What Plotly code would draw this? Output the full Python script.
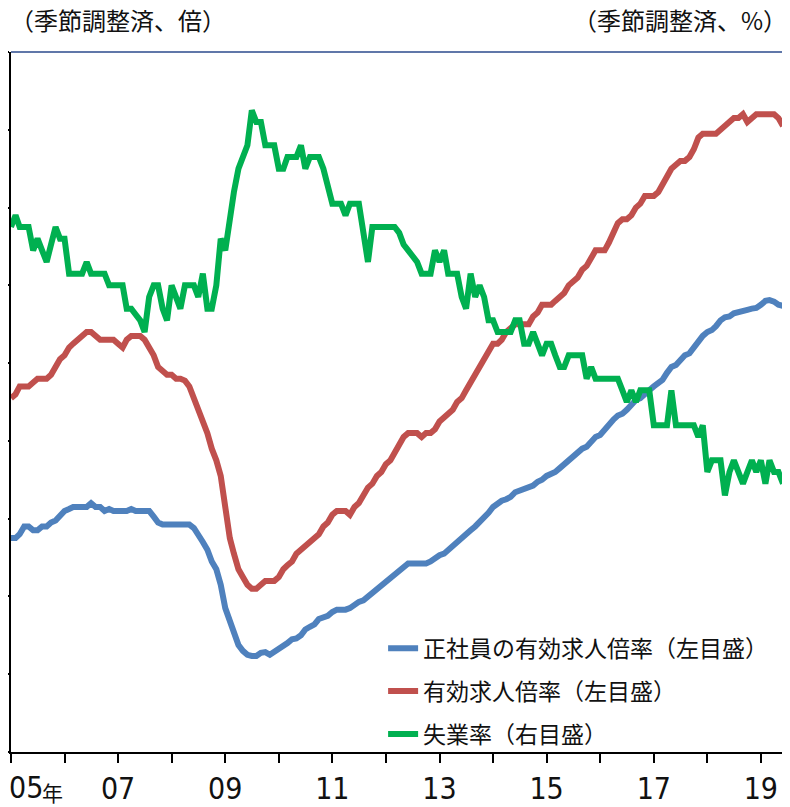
import pandas as pd
import plotly.graph_objects as go

# Monthly data, Jan 2005 - Jun 2019
months = pd.date_range("2005-01-01", periods=174, freq="MS")

regular_ratio = [
    # 2005
    0.55, 0.55, 0.56, 0.58, 0.58, 0.57, 0.57, 0.58, 0.58, 0.59, 0.595, 0.61,
    # 2006
    0.62, 0.625, 0.63, 0.63, 0.63, 0.63, 0.64, 0.63, 0.63, 0.62, 0.625, 0.62,
    # 2007
    0.62, 0.62, 0.62, 0.625, 0.62, 0.62, 0.62, 0.62, 0.605, 0.59, 0.585, 0.585,
    # 2008
    0.585, 0.585, 0.585, 0.585, 0.585, 0.576, 0.56, 0.54, 0.52, 0.49, 0.47, 0.43,
    # 2009
    0.37, 0.335, 0.30, 0.275, 0.26, 0.25, 0.247, 0.247, 0.255, 0.257, 0.25, 0.257,
    # 2010
    0.265, 0.272, 0.28, 0.29, 0.292, 0.30, 0.315, 0.322, 0.328, 0.342, 0.345, 0.35,
    # 2011
    0.36, 0.366, 0.366, 0.366, 0.37, 0.38, 0.386, 0.39, 0.40, 0.41, 0.42, 0.43,
    # 2012
    0.437, 0.445, 0.455, 0.465, 0.475, 0.485, 0.485, 0.485, 0.485, 0.485, 0.49, 0.50,
    # 2013
    0.506, 0.51, 0.52, 0.53, 0.54, 0.55, 0.56, 0.57, 0.58, 0.59, 0.60, 0.615,
    # 2014
    0.63, 0.64, 0.646, 0.65, 0.656, 0.668, 0.673, 0.675, 0.68, 0.685, 0.695, 0.70,
    # 2015
    0.71, 0.715, 0.72, 0.73, 0.74, 0.75, 0.76, 0.77, 0.78, 0.785, 0.80, 0.81,
    # 2016
    0.815, 0.83, 0.84, 0.855, 0.865, 0.87, 0.88, 0.895, 0.905, 0.91, 0.918, 0.93,
    # 2017
    0.94, 0.95, 0.957, 0.975, 0.99, 0.995, 1.01, 1.02, 1.025, 1.04, 1.06, 1.07,
    # 2018
    1.08, 1.085, 1.095, 1.11, 1.118, 1.12, 1.128, 1.13, 1.133, 1.137, 1.14, 1.142,
    # 2019
    1.15, 1.16, 1.162, 1.158, 1.15, 1.147,
]

job_ratio = [
    # 2005
    0.91, 0.92, 0.94, 0.94, 0.94, 0.95, 0.96, 0.96, 0.96, 0.97, 0.99, 1.01,
    # 2006
    1.02, 1.04, 1.05, 1.06, 1.07, 1.08, 1.08, 1.07, 1.06, 1.06, 1.06, 1.06,
    # 2007
    1.05, 1.04, 1.06, 1.07, 1.07, 1.07, 1.06, 1.04, 1.02, 0.99, 0.98, 0.97,
    # 2008
    0.97, 0.96, 0.96, 0.955, 0.94, 0.91, 0.89, 0.86, 0.82, 0.78, 0.75, 0.71,
    # 2009
    0.63, 0.55, 0.51, 0.47, 0.45, 0.43, 0.42, 0.42, 0.43, 0.44, 0.44, 0.44,
    # 2010
    0.45, 0.47, 0.48, 0.49, 0.51, 0.52, 0.53, 0.54, 0.55, 0.56, 0.58, 0.59,
    # 2011
    0.61, 0.62, 0.62, 0.62, 0.61, 0.63, 0.64, 0.66, 0.68, 0.69, 0.71, 0.72,
    # 2012
    0.74, 0.75, 0.77, 0.79, 0.81, 0.82, 0.82, 0.82, 0.81, 0.82, 0.82, 0.83,
    # 2013
    0.85, 0.86, 0.87, 0.88, 0.90, 0.91, 0.93, 0.95, 0.97, 0.99, 1.01, 1.03,
    # 2014
    1.05, 1.05, 1.06, 1.08, 1.09, 1.10, 1.10, 1.10, 1.10, 1.12, 1.13, 1.15,
    # 2015
    1.15, 1.15, 1.16, 1.17, 1.18, 1.20, 1.21, 1.22, 1.24, 1.25, 1.27, 1.29,
    # 2016
    1.29, 1.29, 1.31, 1.34, 1.36, 1.37, 1.37, 1.38, 1.40, 1.41, 1.43, 1.43,
    # 2017
    1.43, 1.44, 1.46, 1.48, 1.50, 1.51, 1.52, 1.52, 1.53, 1.55, 1.58, 1.59,
    # 2018
    1.59, 1.59, 1.59, 1.60, 1.61, 1.62, 1.63, 1.63, 1.64, 1.62, 1.63, 1.64,
    # 2019
    1.64, 1.64, 1.64, 1.64, 1.63, 1.61,
]

unemployment = [
    # 2005
    4.5, 4.6, 4.5, 4.5, 4.5, 4.3, 4.4, 4.3, 4.2, 4.35, 4.5, 4.4,
    # 2006
    4.4, 4.1, 4.1, 4.1, 4.1, 4.2, 4.1, 4.1, 4.1, 4.1, 4.0, 4.0,
    # 2007
    4.0, 4.0, 3.8, 3.8, 3.75, 3.7, 3.6, 3.9, 4.0, 4.0, 3.8, 3.7,
    # 2008
    4.0, 3.9, 3.8, 4.0, 4.0, 4.0, 3.9, 4.1, 3.8, 3.8, 4.0, 4.4,
    # 2009
    4.3, 4.6, 4.8, 5.0, 5.1, 5.2, 5.5, 5.4, 5.4, 5.2, 5.2, 5.2,
    # 2010
    5.0, 5.0, 5.1, 5.1, 5.1, 5.2, 5.0, 5.1, 5.1, 5.1, 5.0, 4.85,
    # 2011
    4.7, 4.7, 4.7, 4.6, 4.7, 4.7, 4.7, 4.45, 4.2, 4.5, 4.5, 4.5,
    # 2012
    4.5, 4.5, 4.5, 4.45, 4.35, 4.3, 4.25, 4.2, 4.1, 4.1, 4.1, 4.3,
    # 2013
    4.2, 4.3, 4.1, 4.1, 4.1, 3.9, 3.8, 4.1, 3.9, 4.0, 3.9, 3.7,
    # 2014
    3.7, 3.6, 3.6, 3.6, 3.6, 3.7, 3.7, 3.5, 3.5, 3.6, 3.5, 3.4,
    # 2015
    3.5, 3.5, 3.4, 3.3, 3.3, 3.4, 3.4, 3.4, 3.4, 3.2, 3.3, 3.2,
    # 2016
    3.2, 3.2, 3.2, 3.2, 3.2, 3.1, 3.0, 3.1, 3.0, 3.1, 3.1, 3.1,
    # 2017
    2.8, 2.8, 2.8, 2.8, 3.1, 2.8, 2.8, 2.8, 2.8, 2.8, 2.7, 2.8,
    # 2018
    2.4, 2.5, 2.5, 2.5, 2.2, 2.4, 2.5, 2.4, 2.3, 2.4, 2.5, 2.4,
    # 2019
    2.5, 2.3, 2.5, 2.4, 2.4, 2.3,
]

series_names = [
    "正社員の有効求人倍率（左目盛）",
    "有効求人倍率（左目盛）",
    "失業率（右目盛）",
]
series_colors = ["#4F81BD", "#C0504D", "#00B050"]

year_ticks = pd.date_range("2005-01-01", "2019-01-01", freq="YS")
year_labels = ["05", "", "07", "", "09", "", "11", "", "13", "", "15", "", "17", "", "19"]

left_title = "（季節調整済、倍）"
right_title = "（季節調整済、%）"
year_suffix = "年"

JP = "Noto Sans CJK JP, Noto Sans, sans-serif"
NARROW = "Liberation Sans Narrow, Arial Narrow, DejaVu Sans Condensed, sans-serif"

fig = go.Figure()
fig.add_trace(go.Scatter(x=months, y=regular_ratio, name=series_names[0], mode="lines",
                         line=dict(color=series_colors[0], width=6), legendgroup="a", yaxis="y"))
fig.add_trace(go.Scatter(x=months, y=job_ratio, name=series_names[1], mode="lines",
                         line=dict(color=series_colors[1], width=6), legendgroup="b", yaxis="y"))
fig.add_trace(go.Scatter(x=months, y=unemployment, name=series_names[2], mode="lines",
                         line=dict(color=series_colors[2], width=6), legendgroup="c", yaxis="y2"))

# first year label is drawn as an annotation so it is not clipped at the page edge
axis_ticktext = [""] + year_labels[1:]

# the page body adds an 8px offset, margins compensate for it
fig.update_layout(
    width=790, height=807,
    margin=dict(l=3, r=15, t=44, b=63, pad=0, autoexpand=False),
    paper_bgcolor="white", plot_bgcolor="white",
    showlegend=True,
    legend=dict(x=0.482, y=0.179, xanchor="left", yanchor="top",
                bgcolor="rgba(0,0,0,0)", borderwidth=0,
                font=dict(family=JP, size=23, color="#111"),
                tracegroupgap=10, traceorder="grouped"),
    xaxis=dict(type="date", range=[months[0], "2019-06-01"], automargin=False,
               tickmode="array", tickvals=year_ticks, ticktext=axis_ticktext,
               ticklabeloverflow="allow",
               ticks="outside", ticklen=9, tickwidth=2, tickcolor="#000",
               showline=True, linecolor="#000", linewidth=2,
               showgrid=False, zeroline=False,
               tickfont=dict(family=NARROW, size=30, color="#111")),
    yaxis=dict(range=[0, 1.8], dtick=0.2, tick0=0, automargin=False,
               ticks="outside", ticklen=9, tickwidth=2, tickcolor="#000",
               showline=True, linecolor="#000", linewidth=2,
               showgrid=False, zeroline=False, showticklabels=False),
    yaxis2=dict(range=[0, 6], dtick=1, tick0=0, overlaying="y", side="right", automargin=False,
                ticks="outside", ticklen=8, tickwidth=2, tickcolor="#1a1a2e",
                showline=True, linecolor="#1a1a2e", linewidth=2,
                showgrid=False, zeroline=False, showticklabels=False),
    shapes=[dict(type="line", xref="paper", yref="paper", x0=0, x1=1, y0=1, y1=1,
                 line=dict(color="#2B4A8C", width=1.5))],
    annotations=[
        dict(text=left_title, xref="paper", yref="paper", x=0, y=1,
             xanchor="left", yanchor="middle", xshift=-3, yshift=33, showarrow=False,
             font=dict(family=JP, size=24, color="#111")),
        dict(text=right_title, xref="paper", yref="paper", x=1, y=1,
             xanchor="right", yanchor="middle", xshift=6, yshift=33, showarrow=False,
             font=dict(family=JP, size=24, color="#111")),
        dict(text=year_labels[0], xref="paper", yref="paper", x=0, y=0,
             xanchor="left", yanchor="middle", xshift=-4, yshift=-35, showarrow=False,
             font=dict(family=NARROW, size=30, color="#111")),
        dict(text=year_suffix, xref="paper", yref="paper", x=0, y=0,
             xanchor="left", yanchor="middle", xshift=29, yshift=-40, showarrow=False,
             font=dict(family=JP, size=21, color="#111")),
    ],
)

fig.write_html("out.html")
